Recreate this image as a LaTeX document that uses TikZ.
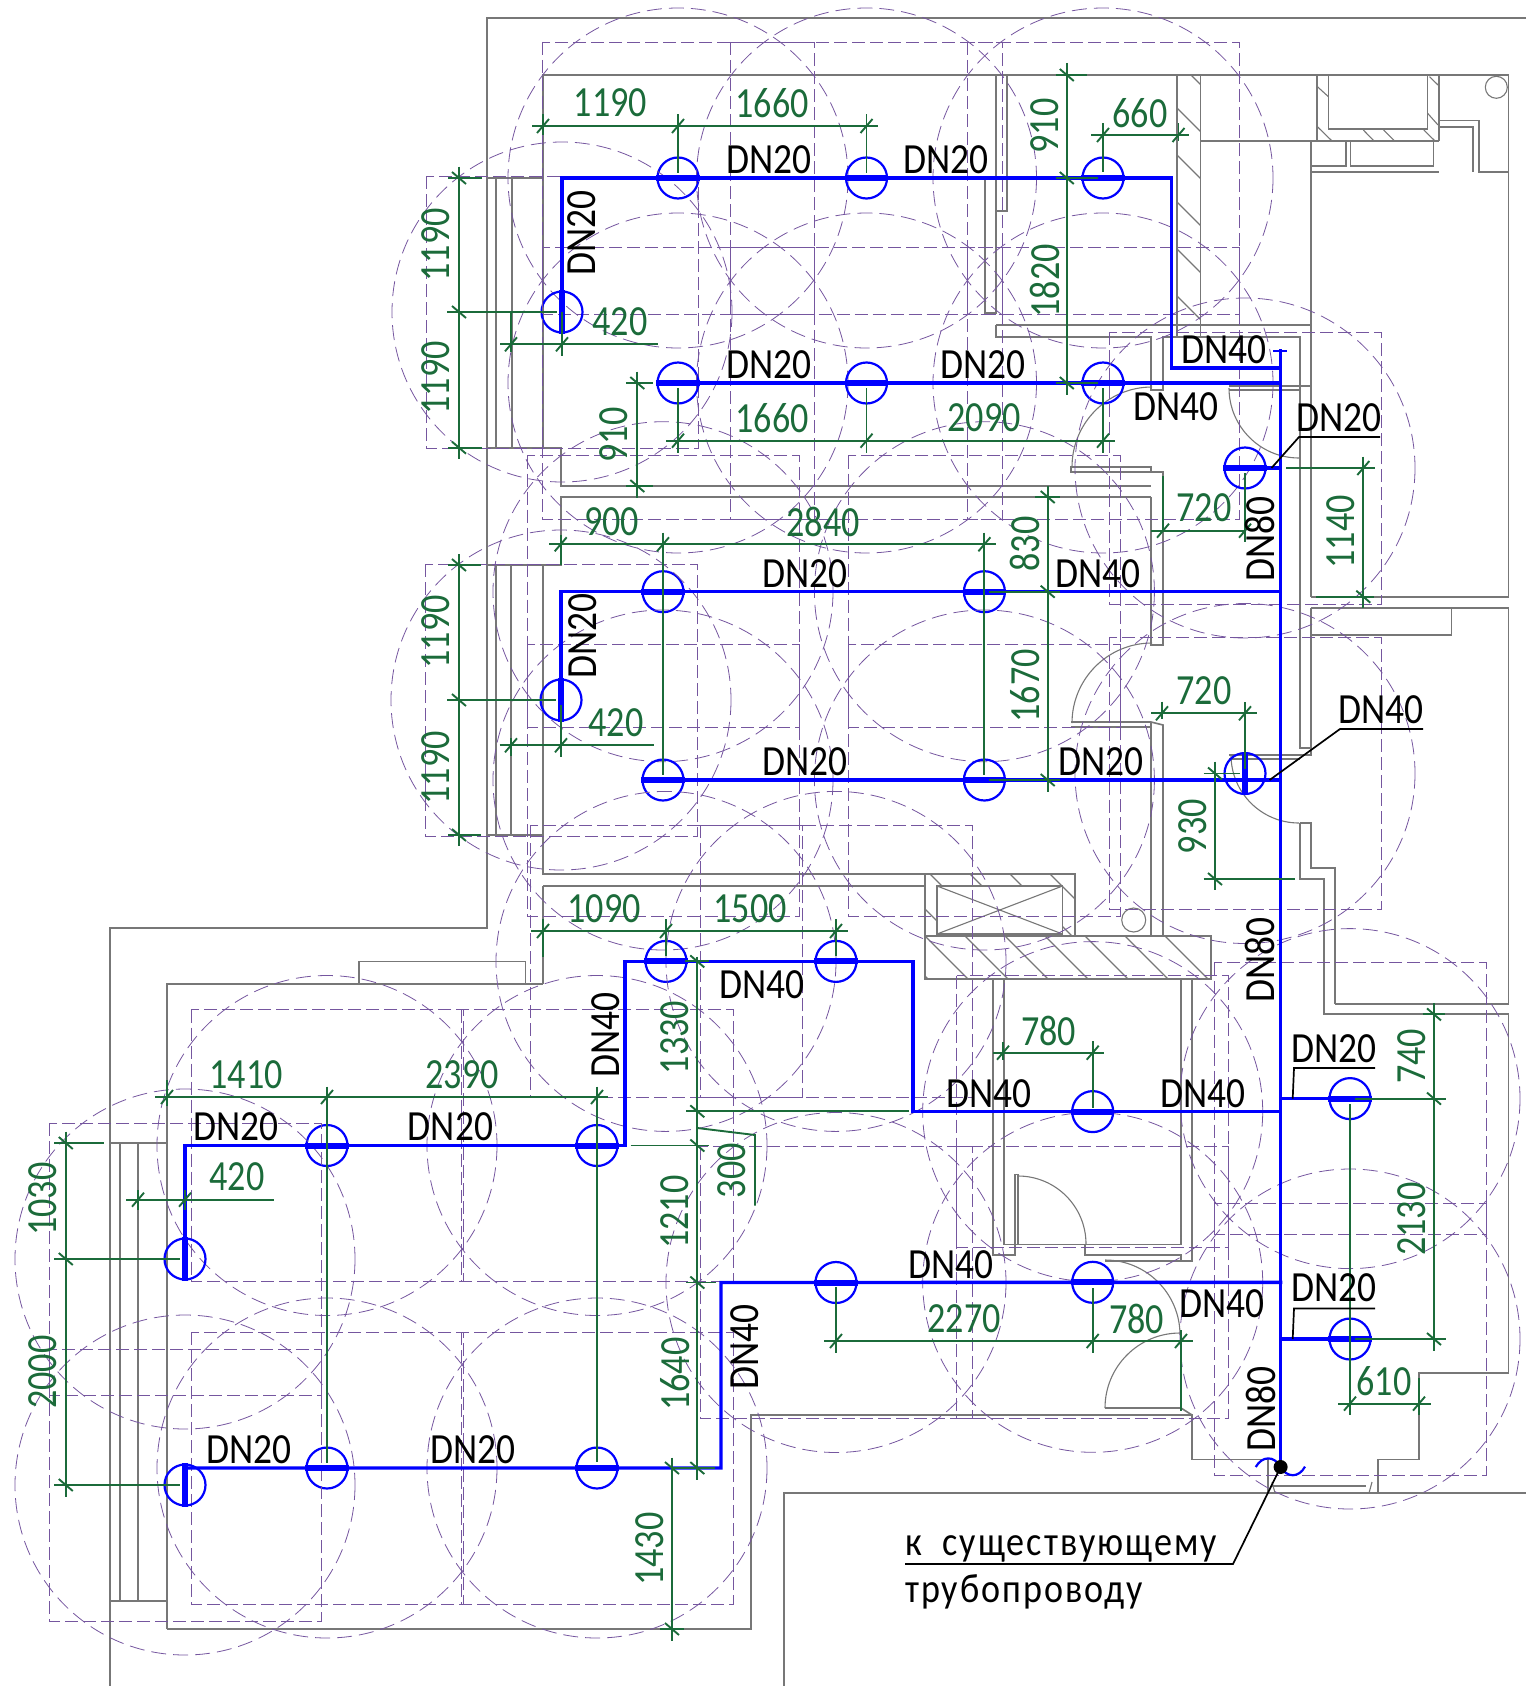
\documentclass[tikz,border=0pt]{standalone}
\usepackage{fontspec}
\setmainfont[FakeStretch=0.87]{Carlito}
\newfontfamily\dimfont[FakeStretch=0.84]{Carlito}
\newfontfamily\notefont[FakeStretch=0.88,LetterSpace=5,WordSpace=2]{Carlito}
\definecolor{wallgray}{HTML}{777777}
\definecolor{dimgreen}{HTML}{1B6B3A}
\definecolor{zonepurple}{HTML}{75569F}
\tikzset{
    wall/.style={draw=wallgray, line width=1.6pt},
    wallthin/.style={draw=wallgray, line width=1.1pt},
    zonesq/.style={draw=zonepurple, line width=0.8pt, dash pattern=on 13pt off 5pt},
    zonecirc/.style={draw=zonepurple, line width=0.8pt, dash pattern=on 15pt off 7pt},
    pipe/.style={draw=blue, line width=3.4pt, line cap=rect},
    pipebar/.style={draw=blue, line width=6pt},
    sprk/.style={circle, draw=blue, line width=2.2pt, minimum size=41pt, inner sep=0pt},
    dimln/.style={draw=dimgreen, line width=1.9pt},
    dimtext/.style={text=dimgreen, inner sep=0pt, font=\dimfont\fontsize{43}{43}\selectfont},
    dntext/.style={text=black, inner sep=0pt, font=\fontsize{43}{43}\selectfont},
    leaderln/.style={draw=black, line width=1.7pt}
}
\begin{document}
\begin{tikzpicture}[x=1pt, y=-1pt]
    \useasboundingbox (0,0) rectangle (1526,1686);
    % Outer contour
    \draw[wall] (1526,18) -- (487,18) -- (487,928) -- (110,928) -- (110,1686);
    \draw[wall] (784,1686) -- (784,1493) -- (1526,1493);
    \draw[wall] (1508.5,75) -- (1508.5,597) -- (1311,597);
    \draw[wall] (1311,608) -- (1508.5,608) -- (1508.5,1004) -- (1335,1004);
    % Top rooms
    \draw[wall] (543,178) -- (543,75) -- (1508.5,75);
    \draw[wall] (543,178) -- (543,448);
    \draw[wall] (487,178) -- (543,178);
    \draw[wall] (496,178) -- (496,448);
    \draw[wall] (512,178) -- (512,448);
    \draw[wall] (487,448) -- (561,448) -- (561,486) -- (1151,486);
    \draw[wall] (1007,75) -- (1007,211) -- (996,211) -- (996,75);
    \draw[wall] (985,178) -- (985,313) -- (996,313) -- (996,178);
    \draw[wall] (996,325) -- (1311,325);
    \draw[wall] (996,325) -- (996,337) -- (1151,337) -- (1151,390) -- (1163,390) -- (1163,337) -- (1300,337) -- (1300,386);
    % Hatched wall at the top
    \draw[wall] (1177,75) -- (1177,337);
    \draw[wall] (1200.5,75) -- (1200.5,337);
    \begin{scope}
        \clip (1177,75) rectangle (1200.5,337);
        \foreach \y in {61,108,...,320}
            \draw[wallthin] (1177,\y) -- (1200.5,\y+23.5);
    \end{scope}
    % Shaft block top right
    \draw[wall] (1200.5,141) -- (1439,141);
    \draw[wall] (1317,75) -- (1317,141);
    \draw[wall] (1439,75) -- (1439,141);
    \draw[wall] (1328.5,75) -- (1328.5,129) -- (1427.5,129) -- (1427.5,75);
    \draw[wallthin] (1317.4,86.7) -- (1328.4,96.7);
    \draw[wallthin] (1317.4,126.7) -- (1332,141);
    \draw[wallthin] (1363.3,130) -- (1374,141);
    \draw[wallthin] (1383.6,130) -- (1394.5,141);
    \draw[wallthin] (1423.8,130) -- (1435,141);
    \draw[wallthin] (1429.5,76.7) -- (1438,85);
    \draw[wallthin] (1427.6,113.3) -- (1438,125);
    \draw[wall] (1311,141) -- (1311,386) -- (1300,386);
    \draw[wall] (1311,172) -- (1439,172);
    \draw[wall] (1346,141) -- (1346,166) -- (1311,166);
    \draw[wall] (1350.5,141) -- (1350.5,166) -- (1433.5,166) -- (1433.5,141);
    \draw[wall] (1439,120.5) -- (1479,120.5) -- (1479,172) -- (1508.5,172);
    \draw[wall] (1439,127) -- (1473,127) -- (1473,172);
    \draw[wallthin] (1496.3,87.3) circle (11);
    % Door leaves and swings
    \draw[wall] (1229,386) -- (1300,386);
    \draw[wallthin] (1229,390) -- (1300,390);
    \draw[wallthin] (1229,388) arc[start angle=180, end angle=90, radius=70];
    \draw[wallthin] (1152,387) arc[start angle=270, end angle=180, radius=80];
    \draw[wall] (1071,467) -- (1151,467) -- (1151,472) -- (1071,472) -- cycle;
    \draw[wall] (1151,497) -- (561,497) -- (561,565) -- (487,565);
    \draw[wall] (1151,472) -- (1163,472) -- (1163,645) -- (1151,645) -- (1151,497);
    \draw[wallthin] (1152,643) arc[start angle=270, end angle=180, radius=80];
    \draw[wall] (1071,722) -- (1151,722);
    \draw[wallthin] (1071,727) -- (1151,727);
    \draw[wall] (1151,722) -- (1163,725) -- (1163,936);
    \draw[wall] (1151,722) -- (1151,936);
    % Room below and window
    \draw[wall] (496,565) -- (496,835);
    \draw[wall] (511,565) -- (511,835);
    \draw[wall] (487,835) -- (543,835);
    \draw[wall] (543,565) -- (543,874) -- (925,874);
    \draw[wall] (543,886) -- (925,886);
    \draw[wall] (543,886) -- (543,984);
    % Right corridor
    \draw[wall] (1300,386) -- (1300,748) -- (1311,748) -- (1311,755);
    \draw[wall] (1311,386) -- (1311,597);
    \draw[wall] (1311,608) -- (1311,755) -- (1229,755);
    \draw[wallthin] (1229,759) -- (1300,759);
    \draw[wall] (1311,635) -- (1451.5,635) -- (1451.5,608);
    \draw[wallthin] (1231,755) arc[start angle=180, end angle=90, radius=68];
    \draw[wall] (1300,823) -- (1311,823) -- (1311,868) -- (1335,868) -- (1335,1004);
    \draw[wall] (1300,823) -- (1300,879) -- (1324,879) -- (1324,1014) -- (1508.5,1014) -- (1508.5,1373) -- (1419,1373) -- (1419,1459.5) -- (1378,1459.5) -- (1378,1493);
    \draw[wall] (1192,1414) -- (1192,1459.5) -- (1268,1459.5) -- (1268,1493);
    % Window at the riser
    \draw[wall] (1272,1486) -- (1366,1486);
    \draw[wallthin] (1272,1482) -- (1275,1493);
    \draw[wallthin] (1372,1482) -- (1369,1493);
    % Duct block
    \draw[wall] (925,874) -- (1075,874) -- (1075,936) -- (925,936) -- cycle;
    \begin{scope}
        \clip (925,874) rectangle (1075,936);
        \foreach \x in {850,890,...,1090}
            \draw[wallthin] (\x,874) -- (\x+62,936);
    \end{scope}
    \draw[wall, fill=white] (937,886) rectangle (1062.5,934);
    \draw[wallthin] (937,886) -- (1062.5,934);
    \draw[wallthin] (937,934) -- (1062.5,886);
    \draw[wallthin] (1133.7,920) circle (12);
    \draw[wall] (925,936) rectangle (1211,979);
    \begin{scope}
        \clip (925,936) rectangle (1211,979);
        \foreach \x in {885,925,...,1200}
            \draw[wallthin] (\x,936) -- (\x+43,979);
    \end{scope}
    % Lower left room
    \draw[wall] (167,1629) -- (167,984) -- (543,984);
    \draw[wall] (359,984) -- (359,961.5) -- (525.5,961.5) -- (525.5,984);
    \draw[wall] (110,1143) -- (167,1143);
    \draw[wall] (110,1601) -- (167,1601);
    \draw[wall] (120,1143) -- (120,1601);
    \draw[wall] (138,1143) -- (138,1601);
    \draw[wall] (167,1629) -- (751,1629) -- (751,1415) -- (1192,1415);
    % Middle room with doors
    \draw[wall] (993,979) -- (993,1255) -- (1015,1255) -- (1015,1174.5) -- (1018,1174.5) -- (1018,1244);
    \draw[wall] (1004,979) -- (1004,1244.5) -- (1181,1244.5) -- (1181,979);
    \draw[wall] (1192,979) -- (1192,1261) -- (1105,1261);
    \draw[wallthin] (1085,1244) -- (1085,1255) -- (1181,1255) -- (1181,1261);
    \draw[wallthin] (1018,1176) arc[start angle=270, end angle=360, radius=68];
    \draw[wallthin] (1105,1260) arc[start angle=270, end angle=360, radius=75];
    \draw[wallthin] (1180,1333) arc[start angle=270, end angle=180, radius=75];
    \draw[wall] (1105,1408) -- (1181,1408) -- (1192,1415);
    % Coverage zones and sprinklers
    \foreach \x/\y [count=\i] in {678/178, 866.5/178, 1103/178, 562/312, 678/383, 866.5/383, 1103/383, 1245/468, 663/591.7, 984.4/591.7, 561/700, 663/780, 984.4/780, 1245/773.5, 666/961.4, 836/961.4, 1092.7/1111.6, 1350/1098.6, 836/1282.5, 1092.7/1282.3, 1350/1339, 327/1145.5, 597/1145.5, 185/1259, 327/1468, 597/1468, 185/1485} {
        \draw[zonesq] (\x-136,\y-136) rectangle (\x+136,\y+136);
        \draw[zonecirc] (\x,\y) circle (170);
        \node[sprk] (s\i) at (\x,\y) {};
    }
    % Junctions on the riser
    \coordinate (rt) at (1280.6,351);
    \coordinate (rb) at (1280.6,1467);
    \coordinate (capl) at (1273,351);
    \coordinate (capr) at (1287,351);
    \coordinate (ja) at (1171.5,178);
    \coordinate (jb) at (1280.6,368);
    \coordinate (jc) at (625,1145.5);
    \coordinate (jd) at (913,961.4);
    \coordinate (je) at (721,1468);
    % Pipes
    \draw[pipe] (rt) -- (rb);
    \draw[draw=blue, line width=2.5pt] (capl) -- (capr);
    \draw[pipe] (s4.center) |- (s1.center) -- (s2.center) -- (s3.center) -- (ja) |- (jb);
    \draw[pipe] (s5.center) -- (s6.center) -- (s7.center) -- (rt |- s7.center);
    \draw[pipe] (s8.center) -- (rt |- s8.center);
    \draw[pipe] (s11.center) |- (s9.center) -- (s10.center) -- (rt |- s10.center);
    \draw[pipe] (s12.center) -- (s13.center) -- (rt |- s13.center);
    \draw[pipe] (s24.center) |- (s22.center) -- (s23.center) -- (jc) |- (s15.center) -- (s16.center) -- (jd) |- (s17.center) -- (rt |- s17.center);
    \draw[pipe] (s27.center) |- (s25.center) -- (s26.center) -- (je) |- (s19.center) -- (s20.center) -- (rt |- s20.center);
    \draw[pipe] (s18.center) -- (rt |- s18.center);
    \draw[pipe] (s21.center) -- (rt |- s21.center);
    % Sprinkler bars
    \foreach \i in {1,2,3,5,6,7,8,9,10,12,13,15,16,17,18,19,20,21,22,23,25,26}
        \draw[pipebar] (s\i.west) -- (s\i.east);
    \foreach \i in {4,11,14,24,27}
        \draw[pipebar] (s\i.north) -- (s\i.south);
    % Connection to the existing pipe
    \draw[draw=blue, line width=2.2pt] (1255.7,1467) .. controls (1262,1456) and (1274,1455) .. (rb) .. controls (1287,1478) and (1299,1478) .. (1305,1466.6);
    \fill (rb) circle (7);
    % Dimension lines, horizontal
    \draw[dimln] (532,126) -- (878.4,126);
    \draw[dimln] (543,114) -- (543,135);
    \draw[dimln] (678,114) -- (678,173);
    \draw[dimln] (866.5,114) -- (866.5,173);
    \draw[dimln] (500,344.3) -- (657.6,344.3);
    \draw[dimln] (511,312) -- (511,352);
    \draw[dimln] (562,312) -- (562,356);
    \draw[dimln] (666,440.7) -- (1114.6,440.7);
    \draw[dimln] (678,388) -- (678,452.7);
    \draw[dimln] (866.5,388) -- (866.5,452.7);
    \draw[dimln] (1103,388) -- (1103,452.7);
    \draw[dimln] (1091.4,135) -- (1188.8,135);
    \draw[dimln] (1103,123) -- (1103,172);
    \draw[dimln] (1178.5,123) -- (1178.5,141);
    \draw[dimln] (1286,468) -- (1375,468);
    \draw[dimln] (1151,530.7) -- (1245.7,530.7);
    \draw[dimln] (1163,476) -- (1163,530.7);
    \draw[dimln] (1245,473) -- (1245,541.7);
    \draw[dimln] (549,544.3) -- (996,544.3);
    \draw[dimln] (560.7,535) -- (560.7,565);
    \draw[dimln] (663,532.7) -- (663,775);
    \draw[dimln] (984.4,532.7) -- (984.4,775);
    \draw[dimln] (499.5,745.3) -- (653.7,745.3);
    \draw[dimln] (511,738) -- (511,756);
    \draw[dimln] (561,705) -- (561,756.7);
    \draw[dimln] (1151,713.3) -- (1256.8,713.3);
    \draw[dimln] (1162,701.7) -- (1162,719);
    \draw[dimln] (1245,702) -- (1245,769);
    \draw[dimln] (531,931) -- (847.8,931);
    \draw[dimln] (543,919) -- (543,956.7);
    \draw[dimln] (666,919) -- (666,956);
    \draw[dimln] (836,919) -- (836,956);
    \draw[dimln] (155,1097) -- (608,1097);
    \draw[dimln] (167,1080) -- (167,1106);
    \draw[dimln] (327,1086.5) -- (327,1463);
    \draw[dimln] (597,1086.5) -- (597,1462);
    \draw[dimln] (126,1199.7) -- (274,1199.7);
    \draw[dimln] (138,1190) -- (138,1210);
    \draw[dimln] (185,1190) -- (185,1210);
    \draw[dimln] (824,1341) -- (1192.7,1341);
    \draw[dimln] (836,1287) -- (836,1352.5);
    \draw[dimln] (1092.7,1288) -- (1092.7,1353);
    \draw[dimln] (1181,1330) -- (1181,1410.5);
    \draw[dimln] (993,1052.7) -- (1104,1052.7);
    \draw[dimln] (1003,1042) -- (1003,1060);
    \draw[dimln] (1092.7,1041) -- (1092.7,1108);
    \draw[dimln] (1338,1403.6) -- (1430.7,1403.6);
    \draw[dimln] (1350,1104) -- (1350,1415);
    \draw[dimln] (1419,1378) -- (1419,1415);
    % Dimension lines, vertical
    \draw[dimln] (459,166.7) -- (459,459);
    \draw[dimln] (448,178) -- (481.5,178);
    \draw[dimln] (447,312) -- (557,312);
    \draw[dimln] (448,447.7) -- (482,447.7);
    \draw[dimln] (637.3,371.7) -- (637.3,498);
    \draw[dimln] (625.8,383) -- (652.6,383);
    \draw[dimln] (625.8,486) -- (652.6,486);
    \draw[dimln] (1066.8,63) -- (1066.8,395);
    \draw[dimln] (1055.8,75) -- (1086.7,75);
    \draw[dimln] (1055.8,178) -- (1098,178);
    \draw[dimln] (1055.8,383) -- (1098,383);
    \draw[dimln] (1363.3,456.7) -- (1363.3,608);
    \draw[dimln] (1316,596.7) -- (1374,596.7);
    \draw[dimln] (1047.7,486) -- (1047.7,791.7);
    \draw[dimln] (1035,497) -- (1059.5,497);
    \draw[dimln] (988.6,591.7) -- (1059.5,591.7);
    \draw[dimln] (988.6,780) -- (1059.5,780);
    \draw[dimln] (459,554) -- (459,846);
    \draw[dimln] (448,565) -- (481,565);
    \draw[dimln] (447,700) -- (556,700);
    \draw[dimln] (448,835) -- (481,835);
    \draw[dimln] (1215,761.7) -- (1215,890);
    \draw[dimln] (1203.5,773.5) -- (1240,773.5);
    \draw[dimln] (1203.5,879) -- (1294.6,879);
    \draw[dimln] (65.8,1131.7) -- (65.8,1496.6);
    \draw[dimln] (54,1143) -- (104,1143);
    \draw[dimln] (54,1259) -- (180,1259);
    \draw[dimln] (54,1485) -- (180,1485);
    \draw[dimln] (697.3,956.6) -- (697.3,1480);
    \draw[dimln] (685,961.4) -- (709,961.4);
    \draw[dimln] (686,1111.3) -- (909,1111.3);
    \draw[dimln] (630.7,1145.5) -- (709,1145.5);
    \draw[dimln] (686,1282.5) -- (716,1282.5);
    \draw[dimln] (672,1468) -- (715,1468);
    \draw[dimln] (697.3,1128) -- (755,1135) -- (755,1205.5);
    \draw[dimln] (672,1457.6) -- (672,1640.8);
    \draw[dimln] (660,1629) -- (684,1629);
    \draw[dimln] (1434,1003) -- (1434,1351);
    \draw[dimln] (1422.7,1014.4) -- (1445,1014.4);
    \draw[dimln] (1355,1098.6) -- (1446,1098.6);
    \draw[dimln] (1355,1339) -- (1446,1339);
    % Ticks
    \foreach \x/\y in {543/126, 678/126, 866.5/126, 511/344.3, 562/344.3, 678/440.7, 866.5/440.7, 1103/440.7, 1103/135, 1178.5/135, 1363.3/468, 1163/530.7, 1245/530.7, 560.7/544.3, 663/544.3, 984.4/544.3, 511/745.3, 561/745.3, 1162/713.3, 1245/713.3, 543/931, 666/931, 836/931, 167/1097, 327/1097, 597/1097, 138/1199.7, 185/1199.7, 836/1341, 1092.7/1341, 1181/1341, 1003/1052.7, 1092.7/1052.7, 1350/1403.6, 1419/1403.6}
        \draw[dimln] (\x-6,\y+7) -- (\x+6,\y-7);
    \foreach \x/\y in {459/178, 459/312, 459/447.7, 637.3/383, 637.3/486, 1066.8/75, 1066.8/178, 1066.8/383, 1363.3/596.7, 1047.7/497, 1047.7/591.7, 1047.7/780, 459/565, 459/700, 459/835, 1215/773.5, 1215/879, 65.8/1143, 65.8/1259, 65.8/1485, 697.3/961.4, 697.3/1111.3, 697.3/1145.5, 697.3/1282.5, 697.3/1468, 672/1468, 672/1629, 1434/1014.4, 1434/1098.6, 1434/1339}
        \draw[dimln] (\x-7,\y-6) -- (\x+7,\y+6);
    % Dimension values
    \foreach \x/\y/\t [count=\i] in {610.5/103/1190, 772/103/1660, 620/321.7/420, 772/418/1660, 984/418/2090, 1140/113/660, 1204/508/720, 611.6/521.7/900, 823/521.7/2840, 616/723/420, 1204/690.7/720, 604/909/1090, 750/909/1500, 246/1074.6/1410, 462/1074.6/2390, 237/1177/420, 964/1319/2270, 1136.7/1318.7/780, 1048.5/1031/780, 1384/1381/610}
        \node[dimtext] (dh\i) at (\x,\y) {\t};
    \foreach \x/\y/\t [count=\i] in {436/245/1190, 436/378/1190, 614/435/910, 1044.8/126/910, 1044.8/280.7/1820, 1341/531.7/1140, 1025/544/830, 1025/686/1670, 436/631.7/1190, 436/768/1190, 1192.5/826.7/930, 43/1199/1030, 43/1372/2000, 675/1037.5/1330, 675/1212/1210, 675/1374/1640, 732/1170.7/300, 650/1549/1430, 1411.7/1056.5/740, 1411.7/1219/2130}
        \node[dimtext, rotate=90] (dv\i) at (\x,\y) {\t};
    % Pipe sizes
    \foreach \x/\y/\t [count=\i] in {769/160/DN20, 946/160/DN20, 769/365/DN20, 983/365/DN20, 1223.7/350/DN40, 1176/406.7/DN40, 1338.7/418/DN20, 805/574/DN20, 805/762/DN20, 1098/574/DN40, 1100.6/762/DN20, 1381/710/DN40, 761.7/985/DN40, 989/1093.7/DN40, 950.7/1265/DN40, 1334/1049/DN20, 1203/1093.7/DN40, 1222/1303.4/DN40, 1334/1288/DN20, 236/1127/DN20, 450.4/1127/DN20, 248.8/1450/DN20, 472.6/1450/DN20}
        \node[dntext] (dn\i) at (\x,\y) {\t};
    \foreach \x/\y/\t [count=\i] in {582/233/DN20, 582.5/635.7/DN20, 1260.4/539.3/DN80, 1260.4/960/DN80, 605.7/1035/DN40, 744.3/1346.8/DN40, 1260.7/1409.4/DN80}
        \node[dntext, rotate=90] (dr\i) at (\x,\y) {\t};
    % Leaders
    \draw[leaderln] (1271.5,468) -- (1299,437) -- (1380,437);
    \draw[leaderln] (1269.6,780) -- (1340,729) -- (1423,729);
    \draw[leaderln] (1292.7,1098.6) -- (1294,1068) -- (1375,1068);
    \draw[leaderln] (1292.7,1339) -- (1294,1308.4) -- (1375,1308.4);
    \draw[leaderln] (rb) -- (1233,1564) -- (905,1564);
    % Note
    \node[anchor=west, inner sep=0pt, font=\notefont\fontsize{41}{41}\selectfont] (note1) at (905,1549) {к существующему};
    \node[anchor=west, inner sep=0pt, font=\notefont\fontsize{41}{41}\selectfont] (note2) at (905,1592) {трубопроводу};
\end{tikzpicture}
\end{document}
